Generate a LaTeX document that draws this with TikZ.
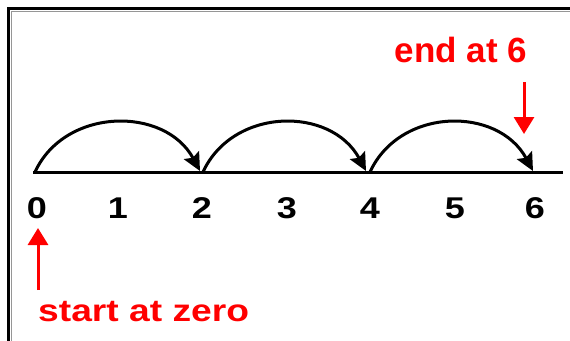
\documentclass[tikz,border=0pt]{standalone}
\usepackage{fontspec}
\usepackage{graphicx}
\setmainfont{Liberation Sans}
\usetikzlibrary{arrows.meta}
\definecolor{lblred}{RGB}{255,0,0}
\definecolor{framegray}{RGB}{150,150,150}
\begin{document}
\begin{tikzpicture}[x=1pt,y=-1pt,
  numlab/.style={font=\fontsize{30}{30}\selectfont\bfseries, inner sep=0pt, anchor=base},
  redlab/.style={font=\fontsize{#1}{#1}\selectfont\bfseries, text=lblred, inner sep=0pt, anchor=base},
  hop/.style={line width=3pt, -{Stealth[length=18pt,width=17pt,inset=3pt]}},
  redarrow/.style={draw=lblred, line width=3pt, -{Triangle[length=17pt,width=20pt]}},
  axis/.style={line width=3pt}
]
\useasboundingbox (0,0) rectangle (570,340);
\fill[white] (0,0) rectangle (570,340);
% frame
\draw[framegray, line width=1.5pt] (11.5,345) -- (11.5,11.5) -- (575,11.5);
\draw[black, line width=3pt] (8.5,345) -- (8.5,8.5) -- (575,8.5);
% axis
\coordinate (L) at (33,172);
\coordinate (R) at (563,172);
\draw[axis] (L) -- (R);
% hop points
\coordinate (a0) at (35,172);
\coordinate (a2) at (200,171);
\coordinate (b2) at (203,172);
\coordinate (a4) at (366,171);
\coordinate (b4) at (370,172);
\coordinate (a6) at (533,171);
\draw[hop] (a0) .. controls +(30,-65) and +(-35,-65) .. (a2);
\draw[hop] (b2) .. controls +(30,-65) and +(-35,-65) .. (a4);
\draw[hop] (b4) .. controls +(30,-65) and +(-35,-65) .. (a6);
% labels
\foreach \i/\x in {0/37,1/118,2/202,3/287,4/370,5/455,6/535}{
  \node[numlab] (n\i) at (\x,218) {\scalebox{1.2}[1]{\i}};
}
% red texts
\node[redlab=35] (endt) at (461,62) {end at 6};
\node[redlab=31, anchor=base west] (startt) at (38,321) {\scalebox{1.2}[1]{start at zero}};
\coordinate (e1) at (524,82);
\coordinate (e2) at (524,134);
\draw[redarrow] (e1) -- (e2);
\coordinate (s1) at (38,290);
\coordinate (s2) at (38,228);
\draw[redarrow] (s1) -- (s2);
\end{tikzpicture}
\end{document}
